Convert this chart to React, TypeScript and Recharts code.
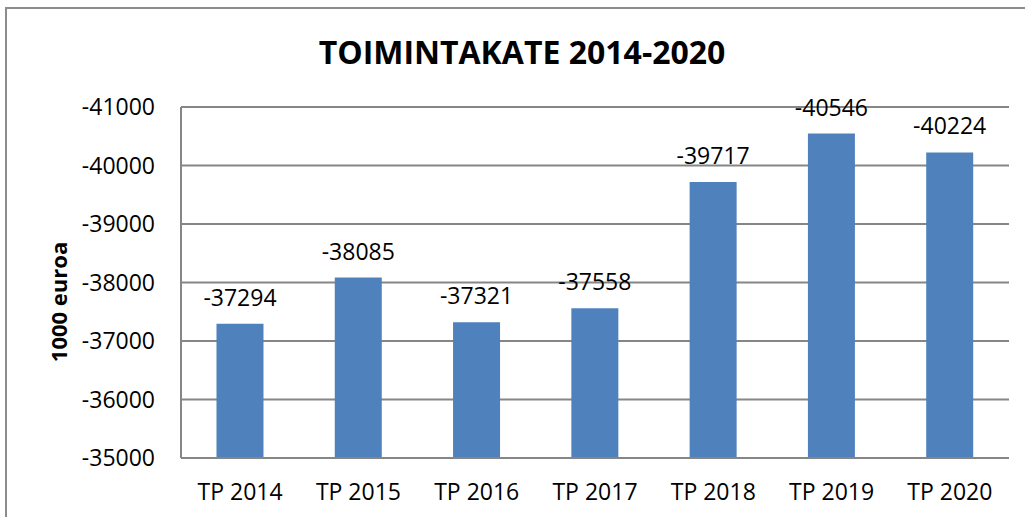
import { BarChart, Bar, XAxis, YAxis, CartesianGrid, LabelList } from 'recharts';

// Kategoriat ja arvot (1000 euroa)
const categories = ['TP 2014', 'TP 2015', 'TP 2016', 'TP 2017', 'TP 2018', 'TP 2019', 'TP 2020'];
const toimintakate = [-37294, -38085, -37321, -37558, -39717, -40546, -40224];
const yTicks = [-41000, -40000, -39000, -38000, -37000, -36000, -35000];

const data = categories.map((name, i) => ({ name, value: toimintakate[i] }));

const FONT = '"Open Sans", sans-serif';
const GRID = '#868686';

export default function App() {
  return (
    <div
      style={{
        position: 'absolute',
        left: 0,
        top: 0,
        width: 1025,
        height: 517,
        overflow: 'hidden',
        background: '#fff',
        fontFamily: FONT,
      }}
    >
      {/* ulkoreunus */}
      <div
        style={{
          position: 'absolute',
          left: 5,
          top: 7,
          width: 1040,
          height: 540,
          border: '2px solid #8c8c8c',
          boxSizing: 'border-box',
        }}
      />
      {/* otsikko */}
      <div
        style={{
          position: 'absolute',
          left: 0,
          width: 1044,
          top: 32,
          textAlign: 'center',
          fontWeight: 700,
          fontSize: 32,
          lineHeight: '40px',
          color: '#000',
        }}
      >
        TOIMINTAKATE 2014-2020
      </div>
      {/* y-akselin otsikko */}
      <div
        style={{
          position: 'absolute',
          left: 58,
          top: 302,
          transform: 'translate(-50%, -50%) rotate(-90deg)',
          whiteSpace: 'nowrap',
          fontWeight: 700,
          fontSize: 22,
          color: '#000',
        }}
      >
        1000 euroa
      </div>
      <div style={{ position: 'absolute', left: 0, top: 0 }}>
        <BarChart
          width={1025}
          height={517}
          data={data}
          margin={{ top: 107, right: 16, bottom: 0, left: 91 }}
          barCategoryGap="30%"
        >
          <CartesianGrid vertical={false} stroke={GRID} strokeWidth={2} />
          <XAxis
            dataKey="name"
            height={59}
            tickLine={false}
            tickSize={0}
            tickMargin={26}
            axisLine={{ stroke: GRID, strokeWidth: 2 }}
            tick={{ fill: '#000', fontSize: 23, fontFamily: FONT }}
            interval={0}
          />
          <YAxis
            type="number"
            domain={[-41000, -35000]}
            ticks={yTicks}
            reversed
            width={90}
            tickLine={false}
            tickSize={0}
            tickMargin={26}
            axisLine={{ stroke: GRID, strokeWidth: 2 }}
            tick={{ fill: '#000', fontSize: 23, fontFamily: FONT }}
            allowDataOverflow
          />
          <Bar dataKey="value" fill="#4F81BD" isAnimationActive={false}>
            <LabelList
              dataKey="value"
              position="top"
              offset={18}
              fill="#000"
              fontSize={23}
              fontFamily={FONT}
            />
          </Bar>
        </BarChart>
      </div>
    </div>
  );
}
